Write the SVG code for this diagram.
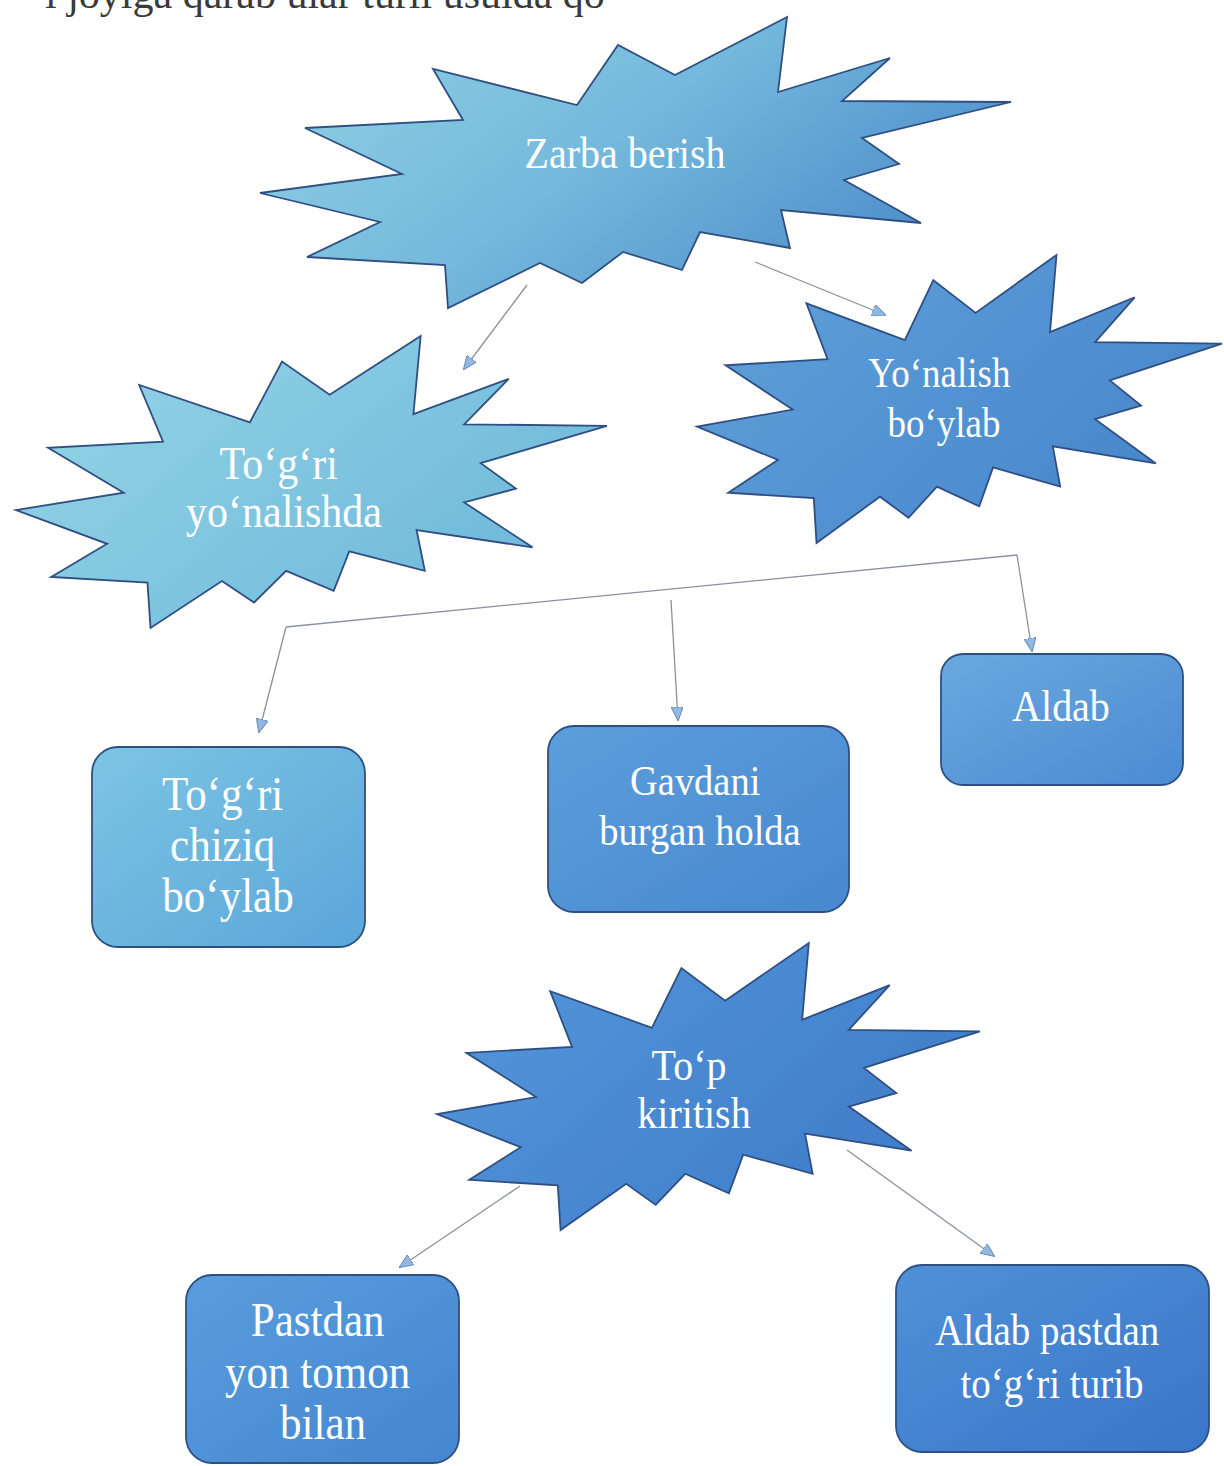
<svg xmlns="http://www.w3.org/2000/svg" xmlns:xlink="http://www.w3.org/1999/xlink" width="1224" height="1466" viewBox="0 0 1224 1466">
  <style>
    .seal { stroke: #2f4f82; stroke-width: 1.8; stroke-linejoin: miter; }
    .box { stroke: #2f4f82; stroke-width: 1.8; }
    .lbl { font-family: "Liberation Serif", "Times New Roman", serif; fill: #ffffff; text-anchor: middle; }
    .conn { fill: none; stroke: #8a919c; stroke-width: 1.3; }
    .page { font-family: "Liberation Serif", "Times New Roman", serif; fill: #3a3a3a; }
  </style>
  <defs>
    <!-- explosion outline in a 21600 x 21600 frame -->
    <path id="seal" vector-effect="non-scaling-stroke"
          d="M11462,4342 L14790,0 L14525,5777 L18007,3172 L16380,6532 L21600,6645 L16985,9402 L18270,11290 L16380,12310 L18877,15632 L14640,14350 L14942,17370 L12180,15935 L11612,18842 L9872,17370 L8700,19712 L7527,18125 L4917,21600 L4805,18240 L1285,17825 L3330,15370 L0,12877 L3935,11592 L1172,8270 L5372,7817 L4502,3625 L8550,6382 L9722,1887 Z"/>
    <linearGradient id="gZ" x1="0" y1="0" x2="1" y2="0.5">
      <stop offset="0" stop-color="#94d4e4"/>
      <stop offset="0.55" stop-color="#74b8dc"/>
      <stop offset="1" stop-color="#4f8fcb"/>
    </linearGradient>
    <linearGradient id="gT" x1="0" y1="0" x2="1" y2="0.6">
      <stop offset="0" stop-color="#96d6e6"/>
      <stop offset="1" stop-color="#70b9db"/>
    </linearGradient>
    <linearGradient id="gY" x1="0" y1="0" x2="1" y2="0.6">
      <stop offset="0" stop-color="#60a2db"/>
      <stop offset="1" stop-color="#4886cb"/>
    </linearGradient>
    <linearGradient id="gP" x1="0" y1="0" x2="1" y2="0.6">
      <stop offset="0" stop-color="#5598db"/>
      <stop offset="1" stop-color="#3f7cca"/>
    </linearGradient>
    <linearGradient id="bC" x1="0" y1="0" x2="1" y2="1">
      <stop offset="0" stop-color="#7cc5e3"/>
      <stop offset="1" stop-color="#5ba6da"/>
    </linearGradient>
    <linearGradient id="bG" x1="0" y1="0" x2="1" y2="1">
      <stop offset="0" stop-color="#5c9edb"/>
      <stop offset="1" stop-color="#4888cf"/>
    </linearGradient>
    <linearGradient id="bA" x1="0" y1="0" x2="1" y2="1">
      <stop offset="0" stop-color="#6aa9df"/>
      <stop offset="1" stop-color="#4b8bd2"/>
    </linearGradient>
    <linearGradient id="bP" x1="0" y1="0" x2="1" y2="1">
      <stop offset="0" stop-color="#5a9ddd"/>
      <stop offset="1" stop-color="#4486d0"/>
    </linearGradient>
    <linearGradient id="bAP" x1="0" y1="0" x2="1" y2="1">
      <stop offset="0" stop-color="#4f91d8"/>
      <stop offset="1" stop-color="#3a76c8"/>
    </linearGradient>
    <marker id="ah" viewBox="0 0 14 12" refX="13" refY="6" markerWidth="14" markerHeight="12" orient="auto" markerUnits="userSpaceOnUse">
      <path d="M0,0 L14,6 L0,12 Z" fill="#8fb9e2" stroke="#6c8db6" stroke-width="1"/>
    </marker>
  </defs>

  <rect width="1224" height="1466" fill="#ffffff"/>

  <!-- running text line cut by the top edge -->
  <text class="page" x="45" y="8" font-size="42">i joyiga qarab ular turli usulda qo</text>

  <!-- connectors -->
  <g id="connectors">
    <path class="conn" d="M527,285 L464,369" marker-end="url(#ah)"/>
    <path class="conn" d="M755,262 L885,315" marker-end="url(#ah)"/>
    <path class="conn" d="M286,627 L1017,555"/>
    <path class="conn" d="M1017,555 L1032,651" marker-end="url(#ah)"/>
    <path class="conn" d="M286,627 L259,732" marker-end="url(#ah)"/>
    <path class="conn" d="M671,600 L678,720" marker-end="url(#ah)"/>
    <path class="conn" d="M520,1186 L400,1267" marker-end="url(#ah)"/>
    <path class="conn" d="M847,1150 L994,1256" marker-end="url(#ah)"/>
  </g>

  <!-- explosion nodes -->
  <g id="node-zarba">
    <polygon class="seal" fill="url(#gZ)"
             points="675,75 787,17 778,92 890,58 842,101 1011,102 862,138 899,164 844,180 921,223 781,210 790,248 700,232 682,270 623,252 582,283 540,263 448,308 445,265 307,257 380,222 260,193 402,174 305,128 463,120 433,69 577,105 618,45"/>
    <text class="lbl" font-size="40" transform="translate(625,168) scale(1,1.12)">Zarba berish</text>
  </g>

  <g id="node-togri-yonalishda">
    <use xlink:href="#seal" class="seal" fill="url(#gT)" transform="translate(16,336) scale(0.027361,0.013519)"/>
    <text class="lbl" font-size="42" transform="translate(284,479) scale(1,1.12)">
      <tspan x="0" dy="0">To‘g‘ri</tspan>
      <tspan x="0" dy="43">yo‘nalishda</tspan>
    </text>
  </g>

  <g id="node-yonalish-boylab">
    <use xlink:href="#seal" class="seal" fill="url(#gY)" transform="translate(697,255) scale(0.024306,0.013333)"/>
    <text class="lbl" font-size="37" transform="translate(944,387) scale(1,1.12)">
      <tspan x="0" dy="0">Yo‘nalish</tspan>
      <tspan x="0" dy="45">bo‘ylab</tspan>
    </text>
  </g>

  <g id="node-top-kiritish">
    <use xlink:href="#seal" class="seal" fill="url(#gP)" transform="translate(437,943) scale(0.025139,0.013287)"/>
    <text class="lbl" font-size="40" transform="translate(694,1080) scale(1,1.12)">
      <tspan x="0" dy="0">To‘p</tspan>
      <tspan x="0" dy="43">kiritish</tspan>
    </text>
  </g>

  <!-- rounded boxes -->
  <g id="node-togri-chiziq">
    <rect class="box" x="92" y="747" width="273" height="200" rx="26" fill="url(#bC)"/>
    <text class="lbl" font-size="43" transform="translate(228,810) scale(1,1.12)">
      <tspan x="0" dy="0">To‘g‘ri</tspan>
      <tspan x="0" dy="45.5">chiziq</tspan>
      <tspan x="0" dy="45.5">bo‘ylab</tspan>
    </text>
  </g>

  <g id="node-gavdani">
    <rect class="box" x="548" y="726" width="301" height="186" rx="26" fill="url(#bG)"/>
    <text class="lbl" font-size="38.5" transform="translate(700,795) scale(1,1.12)">
      <tspan x="0" dy="0">Gavdani</tspan>
      <tspan x="0" dy="44.6">burgan holda</tspan>
    </text>
  </g>

  <g id="node-aldab">
    <rect class="box" x="941" y="654" width="242" height="131" rx="22" fill="url(#bA)"/>
    <text class="lbl" font-size="40" transform="translate(1061,721) scale(1,1.12)">Aldab</text>
  </g>

  <g id="node-pastdan">
    <rect class="box" x="186" y="1275" width="273" height="188" rx="26" fill="url(#bP)"/>
    <text class="lbl" font-size="43" transform="translate(323,1336) scale(1,1.12)">
      <tspan x="0" dy="0">Pastdan</tspan>
      <tspan x="0" dy="46">yon tomon</tspan>
      <tspan x="0" dy="46">bilan</tspan>
    </text>
  </g>

  <g id="node-aldab-pastdan">
    <rect class="box" x="896" y="1265" width="313" height="187" rx="26" fill="url(#bAP)"/>
    <text class="lbl" font-size="39" transform="translate(1052,1345) scale(1,1.12)">
      <tspan x="0" dy="0">Aldab pastdan</tspan>
      <tspan x="0" dy="47">to‘g‘ri turib</tspan>
    </text>
  </g>
</svg>
